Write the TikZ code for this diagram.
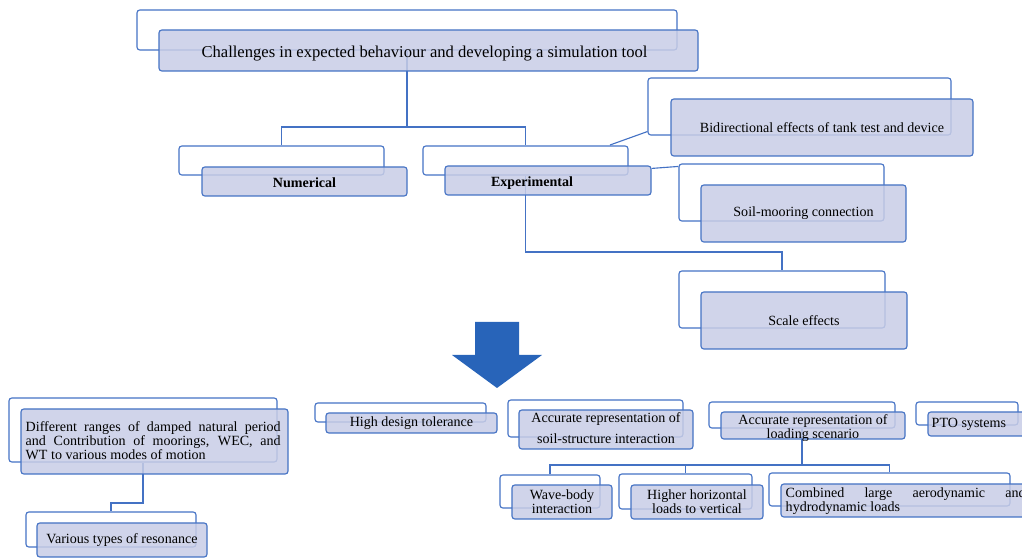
\documentclass[tikz,border=0pt]{standalone}
\usepackage{fontspec}
\setmainfont{Liberation Serif}
\usetikzlibrary{fit}

\definecolor{edgeblue}{RGB}{68,114,196}
\definecolor{cardfill}{RGB}{200,205,230}
\definecolor{arrowblue}{RGB}{40,100,185}

\tikzset{
  back/.style  ={draw=edgeblue, line width=0.8pt, rounded corners=2pt, inner sep=0pt},
  front/.style ={draw=edgeblue, line width=0.8pt, rounded corners=2pt, inner sep=0pt,
                 fill=cardfill, fill opacity=0.85},
  link/.style  ={draw=edgeblue, line width=0.8pt},
  big/.style   ={font=\fontsize{11.8}{13}\selectfont}
}

\begin{document}
\begin{tikzpicture}[x=0.25mm, y=-0.25mm, every node/.style={font=\fontsize{10}{10}\selectfont}]
    \clip (0,0) rectangle (1022,558);

    % back outlines
    \node[back, fit={(137,10) (677,50)}]   (titleB) {};
    \node[back, fit={(179,146) (384,175)}] (numB) {};
    \node[back, fit={(423,146) (628,175)}] (expB) {};
    \node[back, fit={(648,78) (951,135)}]  (bidiB) {};
    \node[back, fit={(679,164) (884,221)}] (soilB) {};
    \node[back, fit={(679,271) (885,328)}] (scaleB) {};
    \node[back, fit={(9,398) (277,462)}]   (diffB) {};
    \node[back, fit={(26,512) (196,547)}]  (varB) {};
    \node[back, fit={(315,403) (486,422)}] (tolB) {};
    \node[back, fit={(508,400) (683,437)}] (ssiB) {};
    \node[back, fit={(709,402) (895,428)}] (loadB) {};
    \node[back, fit={(916,402) (1018,425)}] (ptoB) {};
    \node[back, fit={(500,475) (600,508)}] (waveB) {};
    \node[back, fit={(619,474) (752,509)}] (highB) {};
    \node[back, fit={(769,473) (1010,506)}] (combB) {};

    % connectors
    \coordinate (jTop)  at (407,127);
    \coordinate (jExp)  at (0,252);
    \coordinate (jDiff) at (143,503);
    \coordinate (jLoad) at (0,465);
    \coordinate (jBidi) at (610,145);
    \draw[link] (titleB.south) -- (jTop);
    \draw[link] (numB.north) |- (jTop) -| (expB.north);
    \draw[link] (jBidi) -- ([yshift=1mm]bidiB.south west);
    \draw[link] (expB.south) -- (expB.south |- jExp) -| (scaleB.north);
    \draw[link] (diffB.south) -- (jDiff) -| (varB.north);
    \draw[link] (loadB.south) -- (loadB.south |- jLoad);
    \draw[link] (waveB.north) -- (waveB.north |- jLoad) -| (combB.north);
    \draw[link] (highB.north) -- (highB.north |- jLoad);

    % front cards
    \node[front, fit={(159,30) (698,71)}]   (titleF) {};
    \node[front, fit={(202,167) (407,196)}] (numF) {};
    \node[front, fit={(445,166) (651,195)}] (expF) {};
    \node[front, fit={(671,99) (973,156)}]  (bidiF) {};
    \node[front, fit={(701,185) (906,242)}] (soilF) {};
    \node[front, fit={(701,292) (907,349)}] (scaleF) {};
    \node[front, fit={(21,409) (288,474)}]  (diffF) {};
    \node[front, fit={(37,523) (207,557)}]  (varF) {};
    \node[front, fit={(326,413) (497,433)}] (tolF) {};
    \node[front, fit={(519,410) (693,449)}] (ssiF) {};
    \node[front, fit={(721,412) (905,439)}] (loadF) {};
    \node[front, fit={(928,412) (1040,436)}] (ptoF) {};
    \node[front, fit={(512,485) (612,519)}] (waveF) {};
    \node[front, fit={(631,485) (763,519)}] (highF) {};
    \node[front, fit={(781,484) (1032,517)}] (combF) {};
    \draw[link] ([yshift=-0.75mm]expF.north east) -- ([yshift=-0.75mm]soilB.north west);

    % card texts
    \node[big] (title) at ([xshift=-1mm,yshift=-0.75mm]titleF.center)
        {Challenges in expected behaviour and developing a simulation tool};
    \node (num)   at ([yshift=-0.25mm]numF.center) {\textbf{Numerical}};
    \node (exp)   at ([xshift=-4mm,yshift=-0.75mm]expF.center) {\textbf{Experimental}};
    \node (bidi)  at (bidiF.center) {Bidirectional effects of tank test and device};
    \node (soil)  at (soilF.center) {Soil-mooring connection};
    \node (scale) at (scaleF.center) {Scale effects};
    \node[anchor=west, inner sep=0pt, text width=63.75mm, align=justify] (diff)
        at ([xshift=1.25mm,yshift=0.3mm]diffF.west)
        {Different ranges of damped natural period\linebreak and Contribution of moorings, WEC, and\linebreak WT to various modes of motion};
    \node (var)   at (varF.center) {Various types of resonance};
    \node (tol)   at (tolF.center) {High design tolerance};
    \node[align=center, font=\fontsize{10}{15}\selectfont] (ssi) at ([yshift=0.3mm]ssiF.center)
        {Accurate representation of\\soil-structure interaction};
    \node[align=center] (load) at ([yshift=-0.75mm]loadF.center) {Accurate representation of\\loading scenario};
    \node[anchor=west, inner sep=0pt] (pto) at ([xshift=1mm]ptoF.west) {PTO systems};
    \node[align=center] (wave) at (waveF.center) {Wave-body\\interaction};
    \node[align=center] (high) at (highF.center) {Higher horizontal\\loads to vertical};
    \node[anchor=west, inner sep=0pt, text width=60mm, align=justify] (comb)
        at ([xshift=1.25mm,yshift=-0.2mm]combF.west)
        {Combined large aerodynamic and\linebreak hydrodynamic loads};

    % demand arrow
    \fill[arrowblue] (475,322) -- (519,322) -- (519,355) -- (542,355)
        -- (497,388) -- (452,355) -- (475,355) -- cycle;
\end{tikzpicture}
\end{document}
